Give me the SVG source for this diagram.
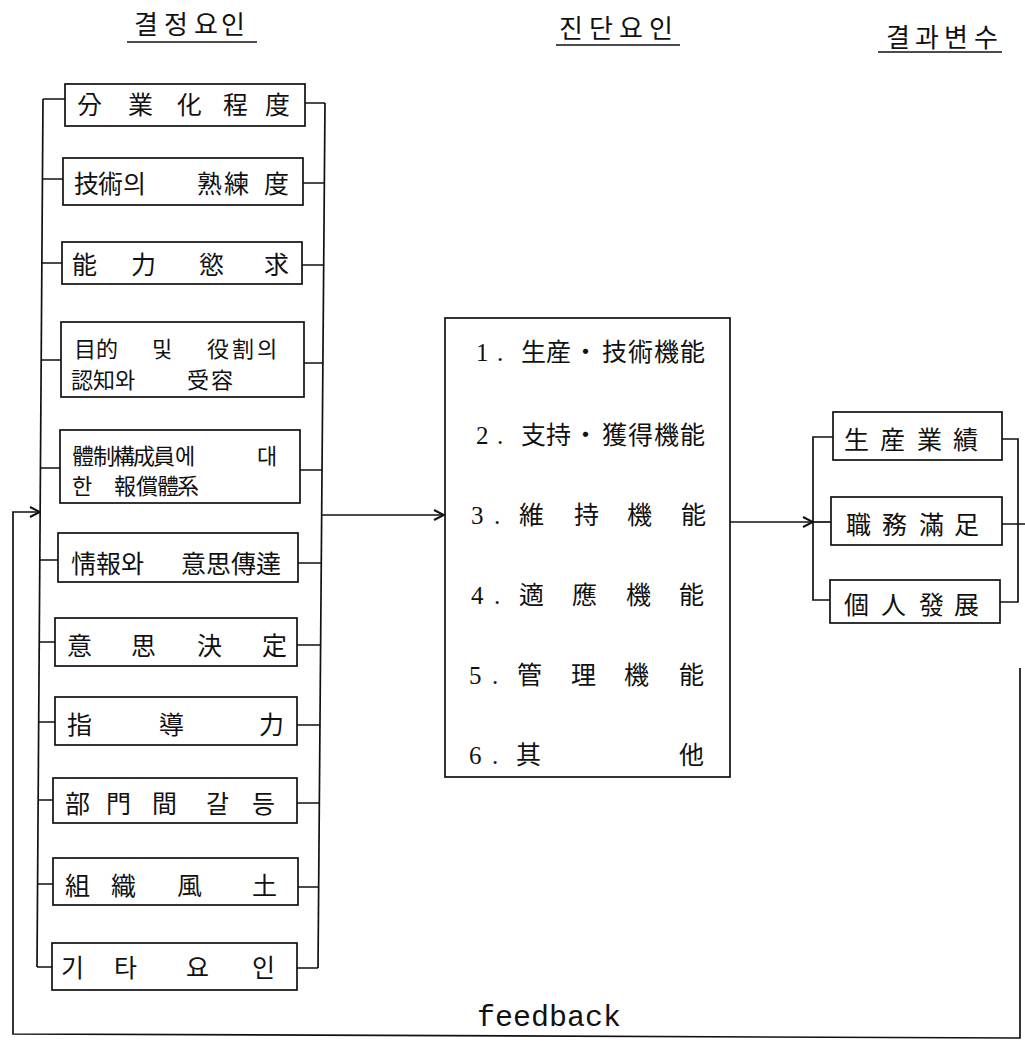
<svg xmlns="http://www.w3.org/2000/svg" width="1025" height="1047" viewBox="0 0 1025 1047">
<style>
.bx{fill:#fff;stroke:#111;stroke-width:1.7}
.ln{fill:none;stroke:#111;stroke-width:1.7}
.t{font-family:"Noto Sans CJK KR","Noto Sans CJK SC",sans-serif;font-size:25px;fill:#111}
.t2{font-family:"Noto Sans CJK KR","Noto Sans CJK SC",sans-serif;font-size:22px;fill:#111}
.h{font-family:"Noto Sans CJK KR",sans-serif;font-size:26px;fill:#111}
.n{font-family:"Liberation Serif",serif;font-size:25px;fill:#111}
.fb{font-family:"Liberation Mono",monospace;font-size:30px;fill:#111}
</style>
<defs>
<marker id="arr" viewBox="0 0 12 12" refX="11" refY="6" markerWidth="12" markerHeight="12" markerUnits="userSpaceOnUse" orient="auto">
<path d="M1,1 L11,6 L1,11" fill="none" stroke="#111" stroke-width="2"/>
</marker>
</defs>

<g id="headers">
<text class="h" x="134 164 194 221" y="34">결정요인</text>
<line class="ln" x1="127" y1="42" x2="257" y2="42"/>
<text class="h" x="559 589 619 649" y="38">진단요인</text>
<line class="ln" x1="556" y1="45" x2="680" y2="45"/>
<text class="h" x="886 915 944 974" y="47">결과변수</text>
<line class="ln" x1="878" y1="52" x2="1002" y2="52"/>
</g>

<g id="connectors">
<line class="ln" x1="43" y1="99" x2="37" y2="967"/>
<line class="ln" x1="325" y1="103" x2="318" y2="968"/>
<path class="ln" d="M43,99H65 M42.4,179H63 M41.9,263H62 M41.2,360H61 M40.4,468H60 M39.8,560H58 M39.2,642H55 M38.7,722H55 M38.2,800H53 M37.6,884H53 M37,967H52"/>
<path class="ln" d="M305,103H325 M303,183H324.4 M302,265H323.7 M304,363H322.9 M300,470H322 M298,563H321.3 M297,645H320.6 M297,725H320 M297,803H319.3 M298,887H318.7 M297,968H318"/>
<line class="ln" x1="321.7" y1="515" x2="444" y2="515" marker-end="url(#arr)"/>
<line class="ln" x1="730" y1="522" x2="813" y2="522" marker-end="url(#arr)"/>
<line class="ln" x1="813" y1="522" x2="831" y2="522"/>
<path class="ln" d="M833,437H813V600H830"/>
<path class="ln" d="M1002,439H1018V602H1000 M1002,524H1025"/>
<path class="ln" d="M1020,668V1038L13,1034V512H40" marker-end="url(#arr)"/>
</g>

<g id="n1"><rect class="bx" x="65" y="84" width="240" height="42"/><text class="t" x="77 128 177 223 265" y="114">分業化程度</text></g>
<g id="n2"><rect class="bx" x="63" y="158" width="240" height="47"/><text class="t" x="74 98 123 197 224 264" y="193">技術의熟練度</text></g>
<g id="n3"><rect class="bx" x="62" y="242" width="240" height="42"/><text class="t" x="72 131 199 264" y="274">能力慾求</text></g>
<g id="n4"><rect class="bx" x="61" y="322" width="243" height="75"/><text class="t2" x="74 96 152 207 232 257" y="357">目的및役割의</text><text class="t2" x="71 93 115 187 211" y="388">認知와受容</text></g>
<g id="n5"><rect class="bx" x="60" y="430" width="240" height="73"/><text class="t2" x="72 93 113 133 153 175 257" y="464">體制構成員에대</text><text class="t2" x="72 114 136 157 177" y="494">한報償體系</text></g>
<g id="n6"><rect class="bx" x="58" y="533" width="240" height="49"/><text class="t" x="71 96 121 181 206 231 256" y="573">情報와意思傳達</text></g>
<g id="n7"><rect class="bx" x="55" y="618" width="242" height="48"/><text class="t" x="67 131 197 262" y="655">意思決定</text></g>
<g id="n8"><rect class="bx" x="55" y="697" width="242" height="48"/><text class="t" x="67 159 259" y="734">指導力</text></g>
<g id="n9"><rect class="bx" x="53" y="778" width="244" height="45"/><text class="t" x="65 106 152 206 252" y="813">部門間갈등</text></g>
<g id="n10"><rect class="bx" x="53" y="858" width="245" height="47"/><text class="t" x="65 111 177 252" y="895">組織風土</text></g>
<g id="n11"><rect class="bx" x="52" y="943" width="245" height="47"/><text class="t" x="61 114 186 252" y="977">기타요인</text></g>

<g id="middle">
<rect class="bx" x="445" y="318" width="285" height="459"/>
<text class="n" x="476 497" y="361">1.</text><text class="t" x="521 546 573 602 628 654 680" y="361">生産・技術機能</text>
<text class="n" x="476 497" y="444">2.</text><text class="t" x="521 546 573 602 628 654 680" y="444">支持・獲得機能</text>
<text class="n" x="471 494" y="524">3.</text><text class="t" x="519 574 627 681" y="524">維持機能</text>
<text class="n" x="471 494" y="604">4.</text><text class="t" x="519 572 626 679" y="604">適應機能</text>
<text class="n" x="469 492" y="684">5.</text><text class="t" x="517 571 624 679" y="684">管理機能</text>
<text class="n" x="469 492" y="764">6.</text><text class="t" x="516 679" y="764">其他</text>
</g>

<g id="r1"><rect class="bx" x="833" y="412" width="169" height="48"/><text class="t" x="844 880 917 953" y="449">生産業績</text></g>
<g id="r2"><rect class="bx" x="831" y="497" width="171" height="48"/><text class="t" x="846 882 919 954" y="534">職務滿足</text></g>
<g id="r3"><rect class="bx" x="830" y="580" width="170" height="43"/><text class="t" x="844 881 919 954" y="614">個人發展</text></g>

<g id="feedback-label"><text class="fb" x="477" y="1026">feedback</text></g>
</svg>
